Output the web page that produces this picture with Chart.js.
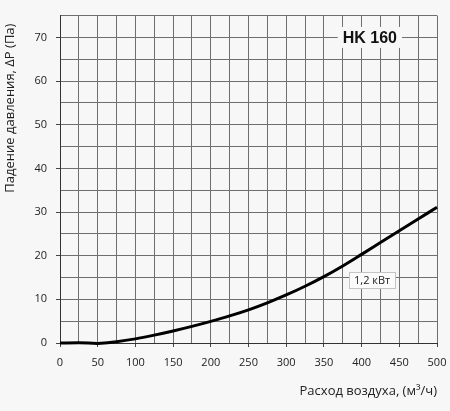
<!DOCTYPE html>
<html lang="ru">
<head>
<meta charset="utf-8">
<title>HK 160</title>
<script src="https://cdn.jsdelivr.net/npm/chart.js@4/dist/chart.umd.min.js"></script>
<style>
    html, body { margin: 0; padding: 0; background: #f7f7f7; }
    .chart-box { position: relative; width: 450px; height: 411px; }
</style>
</head>
<body>
<div class="chart-box">
    <canvas id="pressureChart"></canvas>
</div>
<script>
// расход воздуха, м3/ч
const airflow = [0, 25, 50, 75, 100, 125, 150, 175, 200, 225, 250, 275, 300, 325, 350, 375, 400, 425, 450, 475, 500];
// падение давления, Па
const pressureDrop = [0, 0.05, -0.1, 0.3, 0.95, 1.8, 2.75, 3.8, 4.95, 6.2, 7.6, 9.2, 11.0, 13.0, 15.2, 17.65, 20.3, 23.0, 25.7, 28.4, 31.1];

const xTickLabels = [0, 50, 100, 150, 200, 250, 300, 350, 400, 450, 500];
const yTickLabels = [0, 10, 20, 30, 40, 50, 60, 70];

const modelName = 'HK 160';
const powerLabel = '1,2 кВт';
const yTitle = 'Падение давления, ΔP (Па)';

document.addEventListener('DOMContentLoaded', function() {
    const ctx = document.getElementById('pressureChart');
    if (!ctx) return;

    // подписи на графике: название модели, мощность, подпись оси Y
    const labelsPlugin = {
        id: 'labelsPlugin',
        afterDatasetsDraw(chart) {
            const c = chart.ctx;
            const xs = chart.scales.x;
            const ys = chart.scales.y;

            // HK 160 - фон закрывает сетку
            let cx = xs.getPixelForValue(411);
            let cy = ys.getPixelForValue(70);
            c.save();
            c.font = 'bold 16px "Liberation Sans", Arial, sans-serif';
            let w = c.measureText(modelName).width + 10;
            c.fillStyle = '#f7f7f7';
            c.fillRect(cx - w / 2, cy - 10.5, w, 21);
            c.fillStyle = '#111';
            c.textAlign = 'center';
            c.textBaseline = 'middle';
            c.fillText(modelName, cx, cy + 1);

            // 1,2 кВт
            cx = xs.getPixelForValue(414);
            cy = ys.getPixelForValue(14.4);
            c.font = '11px "Open Sans", sans-serif';
            w = c.measureText(powerLabel).width + 10;
            c.fillStyle = '#fbfbfb';
            c.fillRect(cx - w / 2, cy - 8, w, 16);
            c.strokeStyle = '#c4c4c4';
            c.lineWidth = 1;
            c.strokeRect(Math.round(cx - w / 2) + 0.5, Math.round(cy - 8) + 0.5, Math.round(w), 16);
            c.fillStyle = '#222';
            c.fillText(powerLabel, cx, cy + 0.5);

            // подпись оси Y, выровнена по верху
            c.translate(10, ys.top + 8);
            c.rotate(-Math.PI / 2);
            c.font = '13px "Open Sans", sans-serif';
            c.textAlign = 'right';
            c.fillStyle = '#222';
            c.fillText(yTitle, 0, 0);
            c.restore();
        }
    };

    new Chart(ctx, {
        type: 'line',
        data: {
            datasets: [{
                data: airflow.map((x, i) => ({ x: x, y: pressureDrop[i] })),
                borderColor: '#000',
                borderWidth: 3,
                pointRadius: 0,
                cubicInterpolationMode: 'monotone',
                clip: 4
            }]
        },
        options: {
            responsive: true,
            maintainAspectRatio: false,
            animation: false,
            layout: {
                padding: { top: 14, right: 13, left: 0, bottom: 0 }
            },
            plugins: {
                legend: { display: false },
                tooltip: { enabled: false }
            },
            scales: {
                x: {
                    type: 'linear',
                    min: 0,
                    max: 500,
                    afterFit: function(scale) {
                        scale.height = 68;
                        scale.paddingLeft = 0;
                        scale.paddingRight = 0;
                    },
                    ticks: {
                        stepSize: 25,
                        maxRotation: 0,
                        autoSkip: false,
                        padding: 9,
                        color: '#222',
                        font: { family: '"Open Sans", sans-serif', size: 11 },
                        callback: function(value) {
                            return xTickLabels.includes(value) ? String(value) : '';
                        }
                    },
                    grid: {
                        color: '#6e6e6e',
                        lineWidth: 1,
                        tickLength: 4,
                        tickColor: function(context) {
                            return context.tick && xTickLabels.includes(context.tick.value) ? '#444' : 'rgba(0,0,0,0)';
                        }
                    },
                    border: { color: '#333', width: 1 },
                    title: {
                        display: true,
                        text: 'Расход воздуха, (м³/ч)',
                        align: 'end',
                        color: '#222',
                        font: { family: '"Open Sans", sans-serif', size: 13 },
                        padding: { top: 0, bottom: 12 }
                    }
                },
                y: {
                    min: 0,
                    max: 75,
                    afterFit: function(scale) { scale.width = 60; },
                    ticks: {
                        stepSize: 5,
                        autoSkip: false,
                        padding: 9,
                        color: '#222',
                        font: { family: '"Open Sans", sans-serif', size: 11 },
                        callback: function(value) {
                            return yTickLabels.includes(value) ? String(value) : '';
                        }
                    },
                    grid: {
                        color: '#6e6e6e',
                        lineWidth: 1,
                        tickLength: 4,
                        tickColor: function(context) {
                            return context.tick && yTickLabels.includes(context.tick.value) ? '#444' : 'rgba(0,0,0,0)';
                        }
                    },
                    border: { color: '#333', width: 1 }
                }
            }
        },
        plugins: [labelsPlugin]
    });
});
</script>
</body>
</html>
